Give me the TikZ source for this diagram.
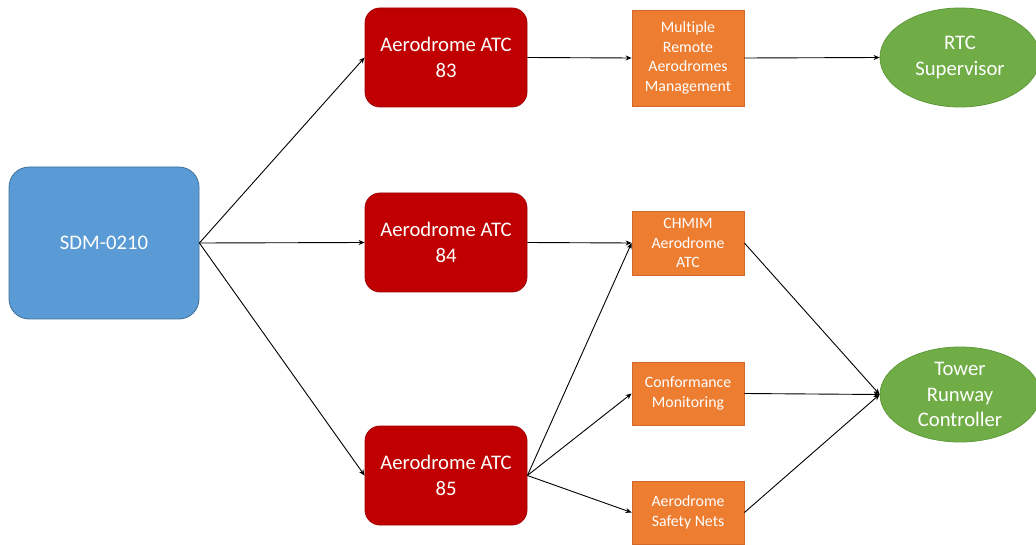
\documentclass[tikz,border=0pt]{standalone}
\usepackage{fontspec}
\setmainfont{Carlito}[Ligatures={NoCommon}]
\usetikzlibrary{shapes.geometric,arrows.meta}
\definecolor{bluefill}{HTML}{5B9BD5}
\definecolor{blueline}{HTML}{41719C}
\definecolor{redfill}{HTML}{C00000}
\definecolor{redline}{HTML}{A00000}
\definecolor{orangefill}{HTML}{ED7D31}
\definecolor{orangeline}{HTML}{D0692A}
\definecolor{greenfill}{HTML}{70AD47}
\definecolor{greenline}{HTML}{5F9A3A}
\tikzset{
  srcbox/.style={draw=blueline, fill=bluefill, rounded corners=20pt, minimum width=190pt, minimum height=152pt, text=white, font=\fontsize{20.7}{26}\selectfont, line width=0.8pt, inner sep=0pt},
  atcbox/.style={draw=redline, fill=redfill, rounded corners=15pt, minimum width=162pt, minimum height=99pt, text=white, font=\fontsize{20.7}{26}\selectfont, align=center, line width=0.8pt, inner sep=0pt},
  funcbox/.style={draw=orangeline, fill=orangefill, minimum width=112pt, text=white, font=\fontsize{15.8}{19.6}\selectfont, align=center, line width=0.8pt, inner sep=0pt},
  roleell/.style={ellipse, draw=greenline, fill=greenfill, minimum width=160pt, text=white, font=\fontsize{20.7}{25.6}\selectfont, align=center, line width=0.8pt, inner sep=0pt},
  conn/.style={draw=black, line width=0.9pt, -{Stealth[length=6pt,width=5pt]}},
}
\begin{document}
\begin{tikzpicture}[x=1pt,y=-1pt]
\useasboundingbox (0,0) rectangle (1036,545);
\node[srcbox] (sdm) at (104,243) {SDM-0210};
\node[atcbox] (a83) at (446,57.5) {Aerodrome ATC\\83};
\node[atcbox] (a84) at (446,242.5) {Aerodrome ATC\\84};
\node[atcbox] (a85) at (446,475.5) {Aerodrome ATC\\85};
\node[funcbox, minimum height=96pt] (mram) at (688,58) {Multiple\\Remote\\Aerodromes\\Management};
\node[funcbox, minimum height=64pt] (chmim) at (688,243) {CHMIM\\Aerodrome\\ATC};
\node[funcbox, minimum height=63pt] (conf) at (688,393.5) {Conformance\\Monitoring};
\node[funcbox, minimum height=63pt] (asn) at (688,512.5) {Aerodrome\\Safety Nets};
\node[roleell, minimum height=99pt] (rtc) at (960,57.5) {RTC\\Supervisor};
\node[roleell, minimum height=95pt] (trc) at (960,394.5) {Tower\\Runway\\Controller};
\draw[conn] (sdm.east) -- (a83.west);
\draw[conn] (sdm.east) -- (a84.west);
\draw[conn] (sdm.east) -- (a85.west);
\draw[conn] (a83.east) -- (mram.west);
\draw[conn] (a84.east) -- (chmim.west);
\draw[conn] (a85.east) -- (chmim.west);
\draw[conn] (a85.east) -- (conf.west);
\draw[conn] (a85.east) -- (asn.west);
\draw[conn] (mram.east) -- (rtc.west);
\draw[conn] (chmim.east) -- (trc.west);
\draw[conn] (conf.east) -- (trc.west);
\draw[conn] (asn.east) -- (trc.west);
\end{tikzpicture}
\end{document}
